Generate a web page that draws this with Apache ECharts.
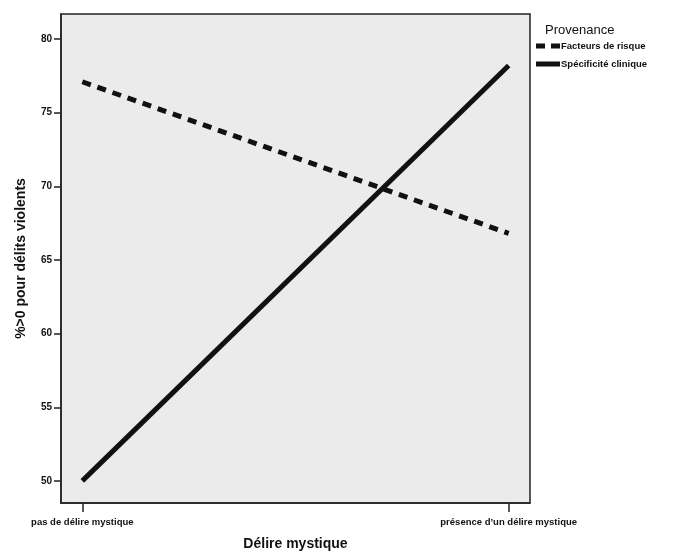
<!DOCTYPE html>
<html>
<head>
<meta charset="utf-8">
<script src="https://cdn.jsdelivr.net/npm/echarts@6/dist/echarts.min.js"></script>
<style>
  html, body { margin: 0; padding: 0; background: #fff; }
  #chart { width: 674px; height: 552px; }
</style>
</head>
<body>
<div id="chart"></div>
<script>
// categories on the x axis
const categories = ['pas de délire mystique', 'présence d\u2019un délire mystique'];
// series values (%>0 pour délits violents)
const facteursRisque = [77.1, 66.8];
const specificiteClinique = [50.0, 78.2];
// y tick labels
const yTicks = [50, 55, 60, 65, 70, 75, 80];

const chartDom = document.getElementById('chart');
const myChart = echarts.init(chartDom);

const toPoints = arr => arr.map((v, i) => [i, v]);
const font = 'Liberation Sans, Arial, sans-serif';

const option = {
  animation: false,
  textStyle: { fontFamily: font },
  title: {
    text: 'Provenance',
    left: 540,
    top: 19,
    textStyle: { fontSize: 13, fontWeight: 'normal', color: '#111', fontFamily: font }
  },
  legend: {
    orient: 'vertical',
    left: 531,
    top: 36,
    itemWidth: 24,
    itemHeight: 5,
    itemGap: 8,
    textStyle: { fontSize: 9.5, fontWeight: 'bold', color: '#111', padding: [0, 0, 0, -4] },
    data: [
      { name: 'Facteurs de risque', icon: 'path://M0,0H9V5H0Z M15,0H24V5H15Z' },
      { name: 'Spécificité clinique', icon: 'rect' }
    ]
  },
  grid: {
    show: true,
    left: 61,
    right: 144,
    top: 14,
    bottom: 49,
    outerBoundsMode: 'none',
    backgroundColor: '#ebebeb',
    borderColor: '#222',
    borderWidth: 1.5
  },
  xAxis: {
    type: 'value',
    min: -0.05,
    max: 1.05,
    name: 'Délire mystique',
    nameLocation: 'middle',
    nameGap: 34,
    nameTextStyle: { fontSize: 14, fontWeight: 'bold', color: '#111' },
    splitLine: { show: false },
    axisLine: { show: true, onZero: false, lineStyle: { color: '#222', width: 1.5 } },
    axisTick: { show: true, length: 9, customValues: [0, 1], lineStyle: { color: '#222', width: 1.5 } },
    axisLabel: {
      customValues: [0, 1],
      margin: 14,
      fontSize: 9.5,
      fontWeight: 'bold',
      color: '#111',
      formatter: v => categories[Math.round(v)]
    }
  },
  yAxis: {
    type: 'value',
    min: 48.5,
    max: 81.7,
    name: '%>0 pour délits violents',
    nameLocation: 'middle',
    nameGap: 33,
    nameTextStyle: { fontSize: 14, fontWeight: 'bold', color: '#111' },
    splitLine: { show: false },
    axisLine: { show: true, onZero: false, lineStyle: { color: '#222', width: 1.5 } },
    axisTick: { show: true, length: 7, customValues: yTicks, lineStyle: { color: '#222', width: 1.5 } },
    axisLabel: {
      customValues: yTicks,
      margin: 9,
      fontSize: 10,
      fontWeight: 'bold',
      color: '#111'
    }
  },
  series: [
    {
      name: 'Facteurs de risque',
      type: 'line',
      data: toPoints(facteursRisque),
      symbol: 'none',
      lineStyle: { width: 5, color: '#111', type: [9, 7] },
      itemStyle: { color: '#111' }
    },
    {
      name: 'Spécificité clinique',
      type: 'line',
      data: toPoints(specificiteClinique),
      symbol: 'none',
      lineStyle: { width: 5, color: '#111' },
      itemStyle: { color: '#111' }
    }
  ]
};
myChart.setOption(option);
</script>
</body>
</html>
